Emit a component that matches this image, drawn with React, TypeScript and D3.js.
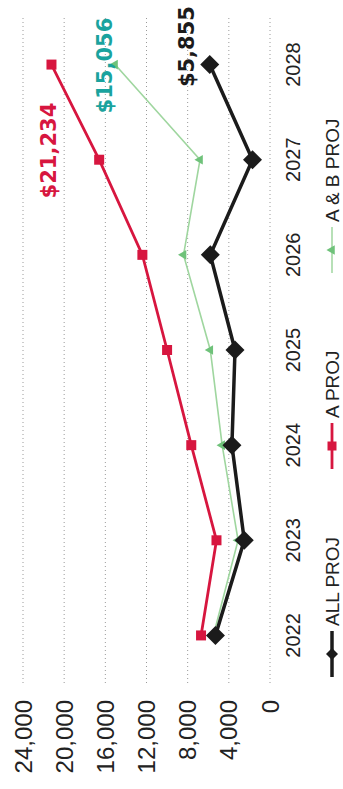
import React from "react";
import * as d3 from "d3";

const years = ["2022", "2023", "2024", "2025", "2026", "2027", "2028"];
const allProj = [5300, 2500, 3700, 3400, 5800, 1700, 5855];
const aProj = [6700, 5200, 7650, 10000, 12400, 16600, 21234];
const abProj = [5500, 3100, 4650, 5800, 8400, 6800, 15056];
const yTicks = [0, 4000, 8000, 12000, 16000, 20000, 24000];
const seriesNames = ["ALL PROJ", "A PROJ", "A & B PROJ"];

const W = 789; // original (unrotated) width
const H = 343; // original height

export default function App() {
  const x = d3.scaleBand<string>().domain(years).range([106, 772]);
  const y = d3.scaleLinear().domain([0, 24000]).range([270, 23]);
  const cx = (d: string) => (x(d) as number) + x.bandwidth() / 2;
  const line = d3
    .line<number>()
    .x((_, i) => cx(years[i]))
    .y((v) => y(v));
  const fmt = d3.format("$,");
  const tri = d3.symbol().type(d3.symbolTriangle).size(40)() as string;
  const diamond = (r: number) => `M0,${-r}L${r},0L0,${r}L${-r},0Z`;
  const sq = (r: number) => `M${-r},${-r}H${r}V${r}H${-r}Z`;

  const RED = "#d7163f";
  const GREEN = "#9fd69f";
  const GREEN_M = "#6fc27a";
  const TEAL = "#1aa39e";
  const BLACK = "#1b1b1b";

  const last = years.length - 1;
  const lx = cx(years[last]);

  const legendItems = [
    { name: seriesNames[0], start: 112, color: BLACK, w: 3.5, marker: diamond(6), mcolor: BLACK },
    { name: seriesNames[1], start: 320, color: RED, w: 2.8, marker: sq(4.5), mcolor: RED },
    { name: seriesNames[2], start: 516, color: GREEN, w: 1.5, marker: tri, mcolor: GREEN_M },
  ];

  return (
    <svg
      width={343}
      height={789}
      style={{ position: "absolute", left: 0, top: 0, background: "#fff" }}
    >
      <g transform={`translate(0,${W}) rotate(-90)`}>
        <rect x={0} y={0} width={W} height={H} fill="#fff" />
        {/* gridlines */}
        {yTicks.map((t) => (
          <line
            key={t}
            x1={106}
            x2={772}
            y1={y(t)}
            y2={y(t)}
            stroke="#9a9a9a"
            strokeWidth={1}
            strokeDasharray="1,3"
          />
        ))}
        {/* y tick labels */}
        {yTicks.map((t) => (
          <text
            key={"l" + t}
            x={89}
            y={y(t)}
            dy="0.36em"
            textAnchor="end"
            fontFamily="'Liberation Sans', Arial, sans-serif"
            fontSize={24}
            fill="#222"
          >
            {d3.format(",")(t)}
          </text>
        ))}
        {/* x labels */}
        {years.map((yr) => (
          <text
            key={yr}
            x={cx(yr)}
            y={300}
            textAnchor="middle"
            fontFamily="'Liberation Sans', Arial, sans-serif"
            fontSize={20}
            fill="#222"
          >
            {yr}
          </text>
        ))}
        {/* A & B PROJ */}
        <path d={line(abProj) as string} fill="none" stroke={GREEN} strokeWidth={1.6} />
        {abProj.map((v, i) => (
          <path key={"g" + i} d={tri} transform={`translate(${cx(years[i])},${y(v)})`} fill={GREEN_M} />
        ))}
        {/* A PROJ */}
        <path d={line(aProj) as string} fill="none" stroke={RED} strokeWidth={2.8} />
        {aProj.map((v, i) => (
          <path key={"r" + i} d={sq(5)} transform={`translate(${cx(years[i])},${y(v)})`} fill={RED} />
        ))}
        {/* ALL PROJ */}
        <path d={line(allProj) as string} fill="none" stroke={BLACK} strokeWidth={3.5} />
        {allProj.map((v, i) => (
          <path key={"b" + i} d={diamond(9.5)} transform={`translate(${cx(years[i])},${y(v)})`} fill={BLACK} />
        ))}
        {/* data labels */}
        <text
          x={lx - 86}
          y={y(aProj[last]) - 3}
          dy="0.36em"
          textAnchor="middle"
          fontFamily="'DejaVu Sans', Verdana, sans-serif"
          fontWeight="bold"
          fontSize={21}
          fill={RED}
        >
          {fmt(aProj[last])}
        </text>
        <text
          x={lx - 1}
          y={y(abProj[last]) - 11}
          dy="0.36em"
          textAnchor="middle"
          fontFamily="'DejaVu Sans', Verdana, sans-serif"
          fontWeight="bold"
          fontSize={21}
          fill={TEAL}
        >
          {fmt(abProj[last])}
        </text>
        <text
          x={lx + 18}
          y={y(allProj[last]) - 23}
          dy="0.36em"
          textAnchor="middle"
          fontFamily="'DejaVu Sans', Verdana, sans-serif"
          fontWeight="bold"
          fontSize={21}
          fill={BLACK}
        >
          {fmt(allProj[last])}
        </text>
        {/* legend */}
        {legendItems.map((it) => (
          <g key={it.name} transform={`translate(${it.start},332)`}>
            <line x1={0} x2={46} y1={0} y2={0} stroke={it.color} strokeWidth={it.w} />
            <path d={it.marker} transform="translate(23,0)" fill={it.mcolor} />
            <text
              x={51}
              y={0}
              dy="0.36em"
              fontFamily="'Liberation Sans', Arial, sans-serif"
              fontSize={19}
              fill="#222"
            >
              {it.name}
            </text>
          </g>
        ))}
      </g>
    </svg>
  );
}
